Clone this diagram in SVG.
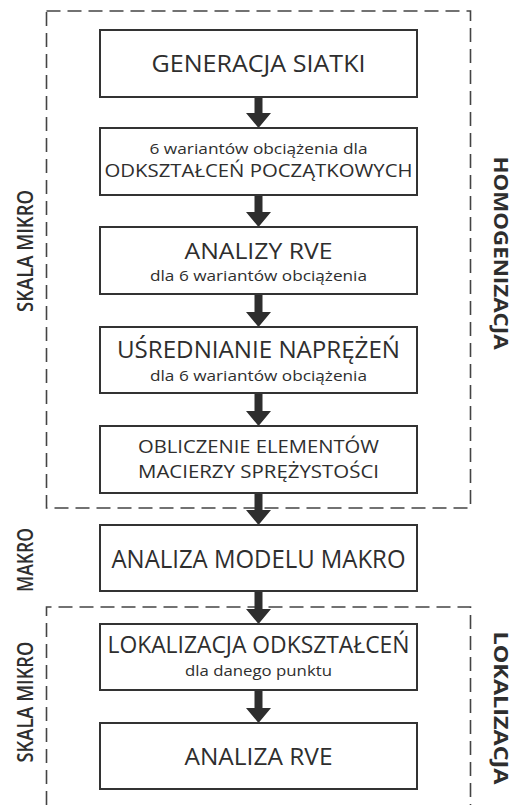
<svg xmlns="http://www.w3.org/2000/svg" width="514" height="805" viewBox="0 0 514 805">
<style>
.box{fill:#fff;stroke:#333;stroke-width:2}
.dash{fill:none;stroke:#444;stroke-width:1.6;stroke-dasharray:14 7}
text{font-family:"Open Sans","DejaVu Sans",sans-serif;fill:#2e2e2e;text-anchor:middle}
.t1{font-size:24px}
.t2{font-size:18.5px}
.sub{font-size:14.8px}
.side{font-size:21px;font-weight:600}
.sideb{font-size:20px;font-weight:700}
.arr{fill:#2e2e2e}
</style>
<rect width="514" height="805" fill="#fff"/>
<g id="regions">
<rect class="dash" x="46.5" y="11" width="424" height="497"/>
<path class="dash" d="M46.5 805 V607 H470.5 V805"/>
</g>
<g id="labels">
<text class="side" transform="translate(32.5,251) rotate(-90)" textLength="122" lengthAdjust="spacingAndGlyphs">SKALA MIKRO</text>
<text class="side" transform="translate(32.5,560) rotate(-90)" textLength="64" lengthAdjust="spacingAndGlyphs">MAKRO</text>
<text class="side" transform="translate(32.5,702) rotate(-90)" textLength="121" lengthAdjust="spacingAndGlyphs">SKALA MIKRO</text>
<text class="sideb" transform="translate(494,253) rotate(90)" textLength="193" lengthAdjust="spacingAndGlyphs">HOMOGENIZACJA</text>
<text class="sideb" transform="translate(494,708) rotate(90)" textLength="153" lengthAdjust="spacingAndGlyphs">LOKALIZACJA</text>
</g>
<g id="connectors">
<path class="arr" d="M254.5 97 h8 v16 h8.5 l-12.5 15 l-12.5 -15 h8.5 z"/>
<path class="arr" d="M254.5 195 h8 v17 h8.5 l-12.5 15 l-12.5 -15 h8.5 z"/>
<path class="arr" d="M254.5 294 h8 v18 h8.5 l-12.5 15 l-12.5 -15 h8.5 z"/>
<path class="arr" d="M254.5 393 h8 v18 h8.5 l-12.5 15 l-12.5 -15 h8.5 z"/>
<path class="arr" d="M254.5 493 h8 v17 h8.5 l-12.5 15 l-12.5 -15 h8.5 z"/>
<path class="arr" d="M254.5 591 h8 v18 h8.5 l-12.5 15 l-12.5 -15 h8.5 z"/>
<path class="arr" d="M254.5 690 h8 v18 h8.5 l-12.5 15 l-12.5 -15 h8.5 z"/>
</g>
<g id="n1">
<rect class="box" x="100" y="30" width="317" height="67"/>
<text class="t1" x="258.5" y="72" textLength="214" lengthAdjust="spacingAndGlyphs">GENERACJA SIATKI</text>
</g>
<g id="n2">
<rect class="box" x="100" y="128" width="317" height="67"/>
<text class="sub" x="258.5" y="153.5" textLength="218" lengthAdjust="spacingAndGlyphs">6 wariantów obciążenia dla</text>
<text class="t2" x="258.5" y="177" textLength="308" lengthAdjust="spacingAndGlyphs">ODKSZTAŁCEŃ POCZĄTKOWYCH</text>
</g>
<g id="n3">
<rect class="box" x="100" y="227" width="317" height="67"/>
<text class="t1" style="font-size:22px" x="258.5" y="259" textLength="148" lengthAdjust="spacingAndGlyphs">ANALIZY RVE</text>
<text class="sub" x="258.5" y="281" textLength="217" lengthAdjust="spacingAndGlyphs">dla 6 wariantów obciążenia</text>
</g>
<g id="n4">
<rect class="box" x="100" y="327" width="317" height="66"/>
<text class="t1" x="258.5" y="358" textLength="283" lengthAdjust="spacingAndGlyphs">UŚREDNIANIE NAPRĘŻEŃ</text>
<text class="sub" x="258.5" y="381" textLength="217" lengthAdjust="spacingAndGlyphs">dla 6 wariantów obciążenia</text>
</g>
<g id="n5">
<rect class="box" x="100" y="426" width="317" height="67"/>
<text class="t2" x="258.5" y="453" textLength="241" lengthAdjust="spacingAndGlyphs">OBLICZENIE ELEMENTÓW</text>
<text class="t2" x="258.5" y="478" textLength="241" lengthAdjust="spacingAndGlyphs">MACIERZY SPRĘŻYSTOŚCI</text>
</g>
<g id="n6">
<rect class="box" x="100" y="525" width="317" height="66"/>
<text class="t1" style="font-size:25px" x="258.5" y="568" textLength="294" lengthAdjust="spacingAndGlyphs">ANALIZA MODELU MAKRO</text>
</g>
<g id="n7">
<rect class="box" x="100" y="624" width="317" height="66"/>
<text class="t1" x="258.5" y="653" textLength="302" lengthAdjust="spacingAndGlyphs">LOKALIZACJA ODKSZTAŁCEŃ</text>
<text class="sub" x="258.5" y="676" textLength="147" lengthAdjust="spacingAndGlyphs">dla danego punktu</text>
</g>
<g id="n8">
<rect class="box" x="100" y="723" width="317" height="66"/>
<text class="t1" x="258.5" y="765" textLength="148" lengthAdjust="spacingAndGlyphs">ANALIZA RVE</text>
</g>
</svg>
